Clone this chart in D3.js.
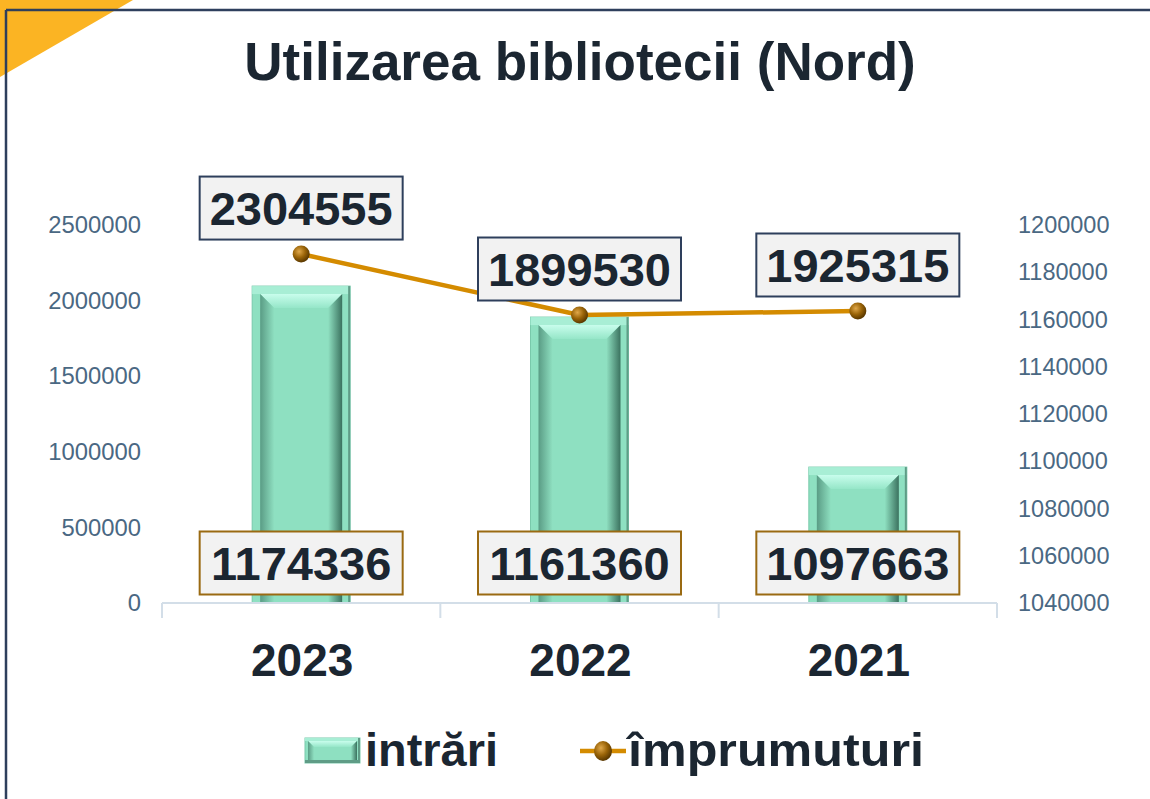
<!DOCTYPE html>
<html>
<head>
<meta charset="utf-8">
<script src="https://cdn.jsdelivr.net/npm/d3@7/dist/d3.min.js"></script>
<style>
  html, body { margin: 0; padding: 0; background: #ffffff; }
  svg { display: block; }
  text { font-family: "Liberation Sans", Arial, Helvetica, sans-serif; }
</style>
</head>
<body>
<svg id="chart" width="1150" height="799"></svg>
<script>
// ---- data ----
const categories = ["2023", "2022", "2021"];
const intrari = [2096000, 1891000, 899000];            // bar heights (left axis)
const imprumuturi = [1187700, 1161900, 1163600];       // line values (right axis)
const topLabels = ["2304555", "1899530", "1925315"];    // labels above line points
const bottomLabels = ["1174336", "1161360", "1097663"]; // labels at bar bases
const leftTicks = [0, 500000, 1000000, 1500000, 2000000, 2500000];
const rightTicks = [1040000, 1060000, 1080000, 1100000, 1120000, 1140000, 1160000, 1180000, 1200000];
const seriesNames = ["intrări", "împrumuturi"];
const title = "Utilizarea bibliotecii (Nord)";

const svg = d3.select("#chart");
const W = 1150, H = 799;

// ---- decorations ----
svg.append("polygon").attr("points", "0,0 133,0 0,77").attr("fill", "#fbb423");
svg.append("line").attr("x1", 6).attr("x2", W).attr("y1", 10).attr("y2", 10)
  .attr("stroke", "#2e3f5c").attr("stroke-width", 2.5);
svg.append("line").attr("x1", 6).attr("x2", 6).attr("y1", 10).attr("y2", H)
  .attr("stroke", "#2e3f5c").attr("stroke-width", 2.5);

// title
svg.append("text").attr("x", 580).attr("y", 80).attr("text-anchor", "middle")
  .attr("font-size", 53).attr("font-weight", "bold").attr("fill", "#1b2631").text(title);

// ---- scales ----
const plotL = 162, plotR = 997, plotT = 225, plotB = 603;
const x = d3.scaleBand().domain(categories).range([plotL, plotR]).paddingInner(0).paddingOuter(0);
const yL = d3.scaleLinear().domain([0, 2500000]).range([plotB, plotT]);
const yR = d3.scaleLinear().domain([1040000, 1200000]).range([plotB, plotT]);

// ---- gradients ----
const defs = svg.append("defs");
const gTop = defs.append("linearGradient").attr("id", "gTop").attr("x1", 0).attr("y1", 0).attr("x2", 0).attr("y2", 1);
gTop.append("stop").attr("offset", "0%").attr("stop-color", "#c8fdec");
gTop.append("stop").attr("offset", "100%").attr("stop-color", "#95e6c8");
const gLeft = defs.append("linearGradient").attr("id", "gLeft").attr("x1", 0).attr("y1", 0).attr("x2", 1).attr("y2", 0);
gLeft.append("stop").attr("offset", "0%").attr("stop-color", "#5a9c85");
gLeft.append("stop").attr("offset", "100%").attr("stop-color", "#8edfc0");
const gRight = defs.append("linearGradient").attr("id", "gRight").attr("x1", 0).attr("y1", 0).attr("x2", 1).attr("y2", 0);
gRight.append("stop").attr("offset", "0%").attr("stop-color", "#8edfc0");
gRight.append("stop").attr("offset", "100%").attr("stop-color", "#3b725f");
const gBall = defs.append("radialGradient").attr("id", "gBall").attr("cx", "38%").attr("cy", "35%").attr("r", "65%");
gBall.append("stop").attr("offset", "0%").attr("stop-color", "#e0a84a");
gBall.append("stop").attr("offset", "55%").attr("stop-color", "#9a6408");
gBall.append("stop").attr("offset", "100%").attr("stop-color", "#5a3800");

function bevelBar(g, x0, x1, y0, y1, o, b) {
  g.append("rect").attr("x", x0).attr("y", y0).attr("width", x1 - x0).attr("height", y1 - y0)
    .attr("fill", "#8ee0c1").attr("stroke", "#79c9ab").attr("stroke-width", 1);
  g.append("rect").attr("x", x0).attr("y", y0).attr("width", x1 - x0).attr("height", o)
    .attr("fill", "#a8eed5");
  g.append("rect").attr("x", x1 - 2).attr("y", y0).attr("width", 2).attr("height", y1 - y0)
    .attr("fill", "#5f9c86");
  const a = o, c = o + b;
  g.append("polygon").attr("points", `${x0+a},${y0+a} ${x1-a},${y0+a} ${x1-c},${y0+c} ${x0+c},${y0+c}`).attr("fill", "url(#gTop)");
  g.append("polygon").attr("points", `${x0+a},${y0+a} ${x0+c},${y0+c} ${x0+c},${y1} ${x0+a},${y1}`).attr("fill", "url(#gLeft)");
  g.append("polygon").attr("points", `${x1-a},${y0+a} ${x1-a},${y1} ${x1-c},${y1} ${x1-c},${y0+c}`).attr("fill", "url(#gRight)");
}

// ---- bars ----
const barW = 98;
const barsG = svg.append("g");
categories.forEach((cat, i) => {
  const cx = x(cat) + x.bandwidth() / 2;
  bevelBar(barsG.append("g"), cx - barW / 2, cx + barW / 2, yL(intrari[i]), yL(0), 8, 14);
});

// ---- axes ----
const axisColor = "#4a6883";
const leftAxis = svg.append("g").attr("transform", `translate(${plotL},0)`)
  .call(d3.axisLeft(yL).tickValues(leftTicks).tickSize(0).tickPadding(21).tickFormat(d3.format("d")));
leftAxis.select(".domain").remove();
leftAxis.selectAll("text").attr("font-size", 23.8).attr("fill", axisColor)
  .attr("font-family", "'Liberation Sans', Arial, sans-serif");

const rightAxis = svg.append("g").attr("transform", `translate(${plotR},0)`)
  .call(d3.axisRight(yR).tickValues(rightTicks).tickSize(0).tickPadding(21).tickFormat(d3.format("d")));
rightAxis.select(".domain").remove();
rightAxis.selectAll("text").attr("font-size", 23.5).attr("fill", axisColor)
  .attr("font-family", "'Liberation Sans', Arial, sans-serif");

// category axis line + boundary ticks
const catAxisG = svg.append("g");
catAxisG.append("line").attr("x1", plotL).attr("x2", plotR).attr("y1", plotB).attr("y2", plotB)
  .attr("stroke", "#d3dee8").attr("stroke-width", 2);
const bounds = categories.map(c => x(c)).concat([x(categories[categories.length - 1]) + x.bandwidth()]);
catAxisG.selectAll("line.tk").data(bounds).enter().append("line").attr("class", "tk")
  .attr("x1", d => d).attr("x2", d => d).attr("y1", plotB).attr("y2", plotB + 15)
  .attr("stroke", "#d3dee8").attr("stroke-width", 2);
catAxisG.selectAll("text.cat").data(categories).enter().append("text").attr("class", "cat")
  .attr("x", d => x(d) + x.bandwidth() / 2 + 1).attr("y", 676).attr("text-anchor", "middle")
  .attr("font-size", 46).attr("font-weight", "bold").attr("fill", "#1b2631").text(d => d);

// ---- line ----
const lineGen = d3.line().x((d, i) => x(categories[i]) + x.bandwidth() / 2).y(d => yR(d));
svg.append("path").datum(imprumuturi).attr("d", lineGen).attr("fill", "none")
  .attr("stroke", "#d48b00").attr("stroke-width", 4.5);
svg.selectAll("circle.pt").data(imprumuturi).enter().append("circle").attr("class", "pt")
  .attr("cx", (d, i) => x(categories[i]) + x.bandwidth() / 2).attr("cy", d => yR(d)).attr("r", 8.5)
  .attr("fill", "url(#gBall)");

// ---- labels ----
function labelBox(cx, cy, txt, stroke) {
  const w = 203, h = 63;
  svg.append("rect").attr("x", cx - w / 2).attr("y", cy - h / 2).attr("width", w).attr("height", h)
    .attr("fill", "#f2f2f2").attr("stroke", stroke).attr("stroke-width", 2);
  svg.append("text").attr("x", cx).attr("y", cy + 17).attr("text-anchor", "middle")
    .attr("font-size", 47).attr("font-weight", "bold").attr("fill", "#1b2631").text(txt);
}
categories.forEach((cat, i) => {
  const cx = x(cat) + x.bandwidth() / 2;
  labelBox(cx, yR(imprumuturi[i]) - 46, topLabels[i], "#2e3f5c");
  labelBox(cx, 563, bottomLabels[i], "#9a6a12");
});

// ---- legend ----
const lg = svg.append("g");
bevelBar(lg, 305, 360, 738, 763, 3, 6);
lg.append("rect").attr("x", 305).attr("y", 760).attr("width", 55).attr("height", 3).attr("fill", "#5f9c86");
lg.append("text").attr("x", 365).attr("y", 766).attr("font-size", 47).attr("font-weight", "bold")
  .attr("textLength", 133).attr("lengthAdjust", "spacingAndGlyphs")
  .attr("fill", "#1b2631").text(seriesNames[0]);
lg.append("line").attr("x1", 580).attr("x2", 626).attr("y1", 751).attr("y2", 751)
  .attr("stroke", "#d48b00").attr("stroke-width", 4.5);
lg.append("ellipse").attr("cx", 603).attr("cy", 751).attr("rx", 9).attr("ry", 10).attr("fill", "url(#gBall)");
lg.append("text").attr("x", 628).attr("y", 766).attr("font-size", 47).attr("font-weight", "bold")
  .attr("textLength", 296).attr("lengthAdjust", "spacingAndGlyphs")
  .attr("fill", "#1b2631").text(seriesNames[1]);
</script>
</body>
</html>
